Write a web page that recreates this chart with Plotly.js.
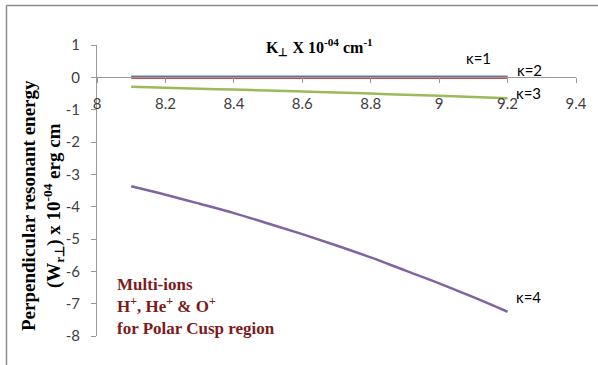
<!DOCTYPE html>
<html>
<head>
<meta charset="utf-8">
<script src="https://cdn.plot.ly/plotly-3.0.1.min.js"></script>
<style>html,body{margin:0;padding:0;background:#fff;}#chart{width:598px;height:365px;}</style>
</head>
<body>
<div id="chart"></div>
<script>
// Data
const kPerp = [8.1, 8.2, 8.3, 8.4, 8.5, 8.6, 8.7, 8.8, 8.9, 9.0, 9.1, 9.2];
const kappa1 = [0.02, 0.02, 0.02, 0.02, 0.02, 0.02, 0.02, 0.02, 0.02, 0.02, 0.02, 0.02];
const kappa2 = [-0.01, -0.01, -0.01, -0.01, -0.01, -0.01, -0.01, -0.01, -0.01, -0.01, -0.01, -0.01];
const kappa3 = [-0.29, -0.32, -0.35, -0.38, -0.41, -0.44, -0.47, -0.50, -0.54, -0.57, -0.61, -0.65];
const kappa4 = [-3.37, -3.63, -3.91, -4.20, -4.52, -4.85, -5.20, -5.57, -5.97, -6.37, -6.80, -7.25];
const seriesNames = ["κ=1", "κ=2", "κ=3", "κ=4"];
const seriesColors = ["#4F81BD", "#C0504D", "#9BBB59", "#8064A2"];
const xTickVals = [8, 8.2, 8.4, 8.6, 8.8, 9, 9.2, 9.4];
const xTickText = ["8", "8.2", "8.4", "8.6", "8.8", "9", "9.2", "9.4"];
const yTickVals = [1, 0, -1, -2, -3, -4, -5, -6, -7, -8];
const yTickText = ["1", "0", "-1", "-2", "-3", "-4", "-5", "-6", "-7", "-8"];

const seriesData = [kappa1, kappa2, kappa3, kappa4];
const traces = seriesData.map((ys, i) => ({
  x: kPerp, y: ys, type: "scatter", mode: "lines", name: seriesNames[i],
  line: {color: seriesColors[i], width: 2.5, shape: "spline", smoothing: 1}, hoverinfo: "skip"
}));

// pixel -> paper helpers (plot area: x 97..576, y 45..336)
const L = 97, W = 479, T = 45, H = 291;
const px = p => (p - L) / W;
const py = p => (T + H - p) / H;

const labelFont = {family: "Lato, 'Liberation Sans', sans-serif", size: 15, color: "#000"};
const annotations = [
  {text: "κ=1", x: px(478), y: py(58)},
  {text: "κ=2", x: px(529), y: py(70)},
  {text: "κ=3", x: px(528), y: py(93)},
  {text: "κ=4", x: px(528), y: py(297)}
].map(a => Object.assign({xref: "paper", yref: "paper", showarrow: false,
  xanchor: "center", yanchor: "middle", font: labelFont}, a));

annotations.push({
  text: "<b>K<sub>⊥</sub> X 10<sup>-04</sup> cm<sup>-1</sup></b>",
  xref: "paper", yref: "paper", x: px(319), y: py(47), showarrow: false,
  xanchor: "center", yanchor: "middle",
  font: {family: "'Liberation Serif', 'Times New Roman', serif", size: 16, color: "#000"}
});
annotations.push({
  text: "<b>Perpendicular resonant energy<br>(W<sub>r⊥</sub>) x 10<sup>-04</sup> erg cm</b>",
  xref: "paper", yref: "paper", x: px(42), y: py(206), showarrow: false,
  xanchor: "center", yanchor: "middle", textangle: -90,
  font: {family: "'Liberation Serif', 'Times New Roman', serif", size: 19, color: "#000"}
});
annotations.push({
  text: "<b>Multi-ions<br>H<sup>+</sup>, He<sup>+</sup> &amp; O<sup>+</sup><br>for Polar Cusp region</b>",
  xref: "paper", yref: "paper", x: px(115), y: py(306), showarrow: false,
  xanchor: "left", yanchor: "middle", align: "left",
  font: {family: "'Liberation Serif', 'Times New Roman', serif", size: 17, color: "#7B1C1C"}
});

const frameColor = "#8a8a8a";
const shapes = [
  {type: "line", xref: "paper", yref: "paper", x0: px(6.5), x1: px(598), y0: py(5.5), y1: py(5.5), line: {color: frameColor, width: 1.5}},
  {type: "line", xref: "paper", yref: "paper", x0: px(6.5), x1: px(6.5), y0: py(5.5), y1: py(365), line: {color: frameColor, width: 1.5}}
];

const axisColor = "#9a9a9a";
const tickFont = {family: "Lato, 'Liberation Sans', sans-serif", size: 15, color: "#404040"};
const layout = {
  width: 598, height: 365,
  margin: {l: L, r: 598 - L - W, t: T, b: 365 - T - H, pad: 0},
  paper_bgcolor: "#fff", plot_bgcolor: "#fff",
  showlegend: false,
  xaxis: {
    range: [8, 9.4], tickvals: xTickVals, ticktext: xTickText,
    showgrid: false, zeroline: false, showline: true, linecolor: axisColor, linewidth: 1,
    ticks: "outside", ticklen: 5, tickcolor: axisColor, tickwidth: 1,
    anchor: "free", position: 8 / 9, tickfont: tickFont, ticklabelstandoff: 8
  },
  yaxis: {
    range: [-8, 1], tickvals: yTickVals, ticktext: yTickText,
    showgrid: false, zeroline: false, showline: true, linecolor: axisColor, linewidth: 1,
    ticks: "outside", ticklen: 5, tickcolor: axisColor, tickwidth: 1,
    tickfont: tickFont, ticklabelstandoff: 8
  },
  annotations: annotations,
  shapes: shapes
};

Plotly.newPlot("chart", traces, layout, {staticPlot: true, displayModeBar: false});
</script>
</body>
</html>
